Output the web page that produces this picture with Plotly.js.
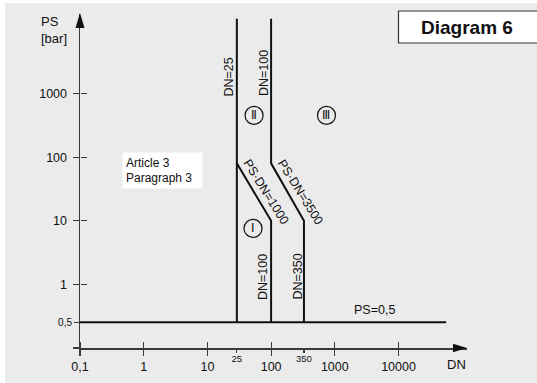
<!DOCTYPE html>
<html>
<head>
<meta charset="utf-8">
<script src="https://cdn.plot.ly/plotly-3.0.1.min.js"></script>
<style>html,body{margin:0;padding:0;background:#fff;}#chart{width:537px;height:383px;}</style>
</head>
<body>
<div id="chart"></div>
<script>
// ---- data ----
const dnTickVals = [0.1, 1, 10, 100, 1000, 10000];
const dnTickText = ['0,1', '1', '10', '100', '1000', '10000'];
const dnMarkVals = [29, 328];
const dnMarkText = ['25', '350'];
const psTickVals = [0.1, 1, 10, 100, 1000];
const psTickText = ['', '1', '10', '100', '1000'];
const psHalfVals = [0.255];
const psHalfText = ['0,5'];

// boundary lines (DN, PS)
const lineDN25_x = [29, 29];
const lineDN25_y = [15000, 0.255];
const lineUpper_x = [100, 100, 328, 328];
const lineUpper_y = [15000, 80, 10, 0.255];
const lineLower_x = [29, 100, 100];
const lineLower_y = [80, 10, 0.255];
const linePS_x = [0.1, 56000];
const linePS_y = [0.255, 0.255];

// category labels
const regionText = ['\u2160', '\u2161', '\u2162'];
const regionDN = [52, 54, 740];
const regionPS = [7.6, 454, 454];

// ---- geometry helpers (pixel -> paper) ----
const W = 537, H = 383;
const mL = 80, mR = 70, mT = 14, mB = 35;
const pw = W - mL - mR, ph = H - mT - mB;
const px = X => (X - mL) / pw;
const py = Y => (H - mB - Y) / ph;

const FONT = '"Liberation Sans", Arial, Helvetica, sans-serif';
const AX = '#3a3a3a';
const INK = '#111';
const xr = [-1, -1 + pw / 63.7];
const yr = [-1, -1 + ph / 63.6];

const lineStyle = {color: INK, width: 2};
const traces = [
  {x: lineDN25_x, y: lineDN25_y, xaxis: 'x2', yaxis: 'y', mode: 'lines', line: lineStyle, hoverinfo: 'skip'},
  {x: lineUpper_x, y: lineUpper_y, xaxis: 'x3', yaxis: 'y', mode: 'lines', line: lineStyle, hoverinfo: 'skip'},
  {x: lineLower_x, y: lineLower_y, xaxis: 'x', yaxis: 'y2', mode: 'lines', line: lineStyle, hoverinfo: 'skip'},
  {x: linePS_x, y: linePS_y, xaxis: 'x', yaxis: 'y3', mode: 'lines', line: lineStyle, hoverinfo: 'skip'},
  {x: regionDN, y: regionPS, xaxis: 'x', yaxis: 'y', mode: 'markers',
   marker: {symbol: 'circle-open', size: 18, color: INK, line: {width: 1.2, color: INK}},
   hoverinfo: 'skip'}
];

function ann(text, X, Y, opts) {
  return Object.assign({text: text, x: px(X), y: py(Y), xref: 'paper', yref: 'paper',
    showarrow: false, xanchor: 'center', yanchor: 'middle',
    font: {family: FONT, size: 12.5, color: INK}}, opts || {});
}

const annotations = [
  ann('PS', 39, 22, {xanchor: 'left', font: {family: FONT, size: 13, color: INK}}),
  ann('[bar]', 39, 38, {xanchor: 'left', font: {family: FONT, size: 13, color: INK}}),
  ann('DN', 456, 364, {font: {family: FONT, size: 13, color: INK}}),
  ann('DN=25', 228, 77.5, {textangle: -90}),
  ann('DN=100', 263.5, 73.5, {textangle: -90}),
  ann('DN=100', 263, 277, {textangle: -90}),
  ann('DN=350', 297.5, 277, {textangle: -90}),
  ann('PS\u00b7DN=1000', 266, 192, {textangle: 58}),
  ann('PS\u00b7DN=3500', 300.5, 191.5, {textangle: 58}),
  ann('PS=0,5', 374.5, 310),
  ann('Article 3<br>Paragraph 3', 122, 152, {xanchor: 'left', yanchor: 'top', align: 'left',
    bgcolor: '#ffffff', borderpad: 3, width: 73, height: 29, font: {family: FONT, size: 12, color: INK}}),
  ann('<b>Diagram 6</b>', 467, 27, {font: {family: FONT, size: 19, color: INK}})
];
regionText.forEach((t, i) => {
  annotations.push({text: t, x: Math.log10(regionDN[i]), y: Math.log10(regionPS[i]),
    xref: 'x', yref: 'y', showarrow: false, xanchor: 'center', yanchor: 'middle',
    font: {family: 'DejaVu Sans', size: 12, color: INK}});
});

const shapes = [
  {type: 'rect', xref: 'paper', yref: 'paper', x0: px(5), x1: px(560), y0: py(400), y1: py(3),
   fillcolor: '#ebebeb', line: {width: 0}, layer: 'below'},
  {type: 'rect', xref: 'paper', yref: 'paper', x0: px(398.5), x1: px(545), y0: py(43), y1: py(11),
   fillcolor: '#ffffff', line: {width: 1.2, color: '#333'}, layer: 'below'},
  // arrow heads
  {type: 'path', xref: 'paper', yref: 'paper',
   path: `M ${px(80)} ${py(13)} L ${px(75.5)} ${py(28)} L ${px(84.5)} ${py(28)} Z`,
   fillcolor: INK, line: {width: 0}},
  {type: 'path', xref: 'paper', yref: 'paper',
   path: `M ${px(467)} ${py(348)} L ${px(453)} ${py(343.8)} L ${px(453)} ${py(352.2)} Z`,
   fillcolor: INK, line: {width: 0}}
];

const baseX = {type: 'log', range: xr, showgrid: false, zeroline: false, fixedrange: true};
const baseY = {type: 'log', range: yr, showgrid: false, zeroline: false, fixedrange: true};

const layout = {
  width: W, height: H,
  margin: {l: mL, r: mR, t: mT, b: mB},
  paper_bgcolor: '#ffffff', plot_bgcolor: 'rgba(0,0,0,0)',
  showlegend: false,
  xaxis: Object.assign({}, baseX, {showline: true, linecolor: AX, linewidth: 1.5,
    tickmode: 'array', tickvals: dnTickVals, ticktext: dnTickText,
    ticks: 'outside', ticklen: 6, tickwidth: 1.2, tickcolor: AX,
    tickfont: {family: FONT, size: 12.5, color: INK}}),
  // same ticks pointing upward so they cross the axis line
  xaxis2: Object.assign({}, baseX, {overlaying: 'x', anchor: 'free', position: 0, side: 'top',
    tickmode: 'array', tickvals: dnTickVals, ticks: 'outside', ticklen: 6, tickwidth: 1.2,
    tickcolor: AX, showticklabels: false}),
  xaxis3: Object.assign({}, baseX, {overlaying: 'x', anchor: 'y', side: 'bottom',
    tickmode: 'array', tickvals: dnMarkVals, ticktext: dnMarkText, ticks: 'outside', ticklen: 4,
    tickwidth: 1.2, tickcolor: AX, tickfont: {family: FONT, size: 9.5, color: INK},
    ticklabelstandoff: -2}),
  yaxis: Object.assign({}, baseY, {showline: true, linecolor: AX, linewidth: 1.5,
    tickmode: 'array', tickvals: psTickVals, ticktext: psTickText,
    ticks: 'outside', ticklen: 6, tickwidth: 1.2, tickcolor: AX,
    tickfont: {family: FONT, size: 12.5, color: INK}, ticklabelstandoff: 3}),
  yaxis2: Object.assign({}, baseY, {overlaying: 'y', anchor: 'free', position: 0, side: 'right',
    tickmode: 'array', tickvals: psTickVals.slice(1), ticks: 'outside', ticklen: 6, tickwidth: 1.2,
    tickcolor: AX, showticklabels: false}),
  yaxis3: Object.assign({}, baseY, {overlaying: 'y', anchor: 'x', side: 'left',
    tickmode: 'array', tickvals: psHalfVals, ticktext: psHalfText, ticks: 'outside', ticklen: 5,
    tickwidth: 1.2, tickcolor: AX, tickfont: {family: FONT, size: 10, color: INK}}),
  annotations: annotations,
  shapes: shapes
};

Plotly.newPlot('chart', traces, layout, {staticPlot: true, displayModeBar: false});
</script>
</body>
</html>
